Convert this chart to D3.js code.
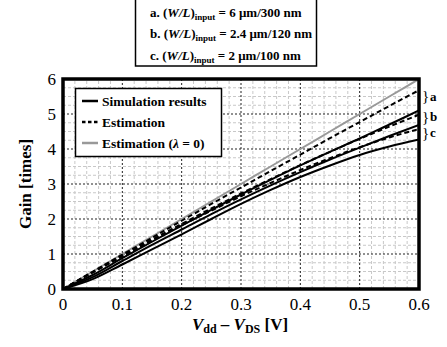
<!DOCTYPE html>
<html>
<head>
<meta charset="utf-8">
<script src="https://cdn.jsdelivr.net/npm/d3@7"></script>
<style>
  body { margin: 0; background: #fff; }
  svg text { font-family: "Times New Roman", "Liberation Serif", Tinos, "DejaVu Serif", "Noto Serif", serif; }
</style>
</head>
<body>
<svg id="chart" width="447" height="347"></svg>
<script>
// x values (Vdd - VDS, V)
const vx = [0, 0.05, 0.1, 0.15, 0.2, 0.25, 0.3, 0.35, 0.4, 0.45, 0.5, 0.55, 0.6];

// simulation results (solid)
const simA = [0, 0.4, 0.88, 1.35, 1.81, 2.26, 2.7, 3.12, 3.53, 3.92, 4.3, 4.7, 5.1];
const simB = [0, 0.34, 0.8, 1.26, 1.7, 2.14, 2.56, 2.96, 3.34, 3.7, 4.04, 4.37, 4.69];
const simC = [0, 0.28, 0.7, 1.13, 1.56, 2.0, 2.43, 2.83, 3.2, 3.53, 3.83, 4.07, 4.27];

// estimation (dashed)
const estA = [0, 0.49, 0.98, 1.46, 1.95, 2.43, 2.9, 3.37, 3.84, 4.31, 4.77, 5.23, 5.68];
const estB = [0, 0.48, 0.95, 1.41, 1.86, 2.3, 2.73, 3.14, 3.54, 3.92, 4.29, 4.64, 4.98];
const estC = [0, 0.47, 0.93, 1.38, 1.82, 2.24, 2.65, 3.03, 3.4, 3.74, 4.05, 4.33, 4.57];

// estimation with lambda = 0 (grey)
const estL0 = [0, 0.5, 1, 1.5, 2, 2.5, 3, 3.5, 4, 4.5, 5, 5.5, 6];

const xTicks = [0, 0.1, 0.2, 0.3, 0.4, 0.5, 0.6];
const xTickLabels = ['0', '0.1', '0.2', '0.3', '0.4', '0.5', '0.6'];
const yTicks = [0, 1, 2, 3, 4, 5, 6];

const boxLines = [
  {tag: 'a.', w: '6 \u03BCm/300 nm'},
  {tag: 'b.', w: '2.4 \u03BCm/120 nm'},
  {tag: 'c.', w: '2 \u03BCm/100 nm'}
];
const braceLabels = ['a', 'b', 'c'];
const braceGain = [5.5, 4.92, 4.45];

const svg = d3.select('#chart');
const margin = {top: 79, right: 28, bottom: 58, left: 63};
const width = 447 - margin.left - margin.right,
  height = 347 - margin.top - margin.bottom;

const x = d3.scaleLinear().domain([0, 0.6]).range([margin.left, margin.left + width]);
const y = d3.scaleLinear().domain([0, 6]).range([margin.top + height, margin.top]);

svg.append('defs').append('clipPath').attr('id', 'clip')
  .append('rect')
  .attr('x', margin.left).attr('y', margin.top)
  .attr('width', width).attr('height', height);

// minor grid
const grid = svg.append('g');
grid.selectAll('.vminor')
  .data(d3.range(1, 30).filter(i => i % 5 !== 0).map(i => i * 0.02))
  .enter().append('line')
  .attr('x1', d => x(d)).attr('x2', d => x(d))
  .attr('y1', y(0)).attr('y2', y(6))
  .attr('stroke', '#c8c8c8').attr('stroke-width', 1).attr('stroke-dasharray', '3,2');
grid.selectAll('.hminor')
  .data(d3.range(1, 24).filter(i => i % 4 !== 0).map(i => i * 0.25))
  .enter().append('line')
  .attr('x1', x(0)).attr('x2', x(0.6))
  .attr('y1', d => y(d)).attr('y2', d => y(d))
  .attr('stroke', '#c8c8c8').attr('stroke-width', 1).attr('stroke-dasharray', '3,2');

// major grid
grid.selectAll('.vmajor')
  .data(xTicks.slice(1, -1))
  .enter().append('line')
  .attr('x1', d => x(d)).attr('x2', d => x(d))
  .attr('y1', y(0)).attr('y2', y(6))
  .attr('stroke', '#222').attr('stroke-width', 1).attr('stroke-dasharray', '2,2');
grid.selectAll('.hmajor')
  .data(yTicks.slice(1, -1))
  .enter().append('line')
  .attr('x1', x(0)).attr('x2', x(0.6))
  .attr('y1', d => y(d)).attr('y2', d => y(d))
  .attr('stroke', '#222').attr('stroke-width', 1).attr('stroke-dasharray', '2,2');

// curves
const line = d3.line()
  .curve(d3.curveMonotoneX)
  .x((d, i) => x(vx[i]))
  .y(d => y(d));

const series = [
  {v: estL0, color: '#999', dash: null},
  {v: simA, color: '#000', dash: null},
  {v: simB, color: '#000', dash: null},
  {v: simC, color: '#000', dash: null},
  {v: estA, color: '#000', dash: '5,3'},
  {v: estB, color: '#000', dash: '5,3'},
  {v: estC, color: '#000', dash: '5,3'}
];

svg.append('g').attr('clip-path', 'url(#clip)')
  .selectAll('path')
  .data(series)
  .enter().append('path')
  .attr('d', d => line(d.v))
  .attr('fill', 'none')
  .attr('stroke', d => d.color)
  .attr('stroke-width', 2)
  .attr('stroke-dasharray', d => d.dash);

// frame
svg.append('rect')
  .attr('x', margin.left).attr('y', margin.top)
  .attr('width', width).attr('height', height)
  .attr('fill', 'none').attr('stroke', '#000').attr('stroke-width', 3.5);

// tick labels
svg.append('g').selectAll('text')
  .data(xTicks)
  .enter().append('text')
  .attr('x', d => x(d)).attr('y', y(0) + 21)
  .attr('text-anchor', 'middle')
  .style('font-size', '17px')
  .text((d, i) => xTickLabels[i]);

svg.append('g').selectAll('text')
  .data(yTicks)
  .enter().append('text')
  .attr('x', margin.left - 7).attr('y', d => y(d))
  .attr('dy', '0.35em')
  .attr('text-anchor', 'end')
  .style('font-size', '17px')
  .text(d => d);

// axis titles
const xt = svg.append('text')
  .attr('x', 240).attr('y', 330)
  .attr('text-anchor', 'middle')
  .style('font-size', '17px').style('font-weight', 'bold');
xt.append('tspan').style('font-style', 'italic').text('V');
xt.append('tspan').attr('dy', 3).style('font-size', '12px').text('dd');
xt.append('tspan').attr('dy', -3).text(' \u2013 ');
xt.append('tspan').style('font-style', 'italic').text('V');
xt.append('tspan').attr('dy', 3).style('font-size', '12px').text('DS');
xt.append('tspan').attr('dy', -3).text(' [V]');

svg.append('text')
  .attr('transform', 'translate(31,' + y(3) + ') rotate(-90)')
  .attr('text-anchor', 'middle')
  .style('font-size', '17px').style('font-weight', 'bold')
  .text('Gain [times]');

// top box
svg.append('rect')
  .attr('x', 135.5).attr('y', -1)
  .attr('width', 181).attr('height', 67)
  .attr('fill', '#fff').attr('stroke', '#000').attr('stroke-width', 1.5);

const bt = svg.append('g').selectAll('text')
  .data(boxLines)
  .enter().append('text')
  .attr('x', 150).attr('y', (d, i) => 16.5 + i * 21.5)
  .style('font-size', '13px').style('font-weight', 'bold');
bt.append('tspan').text(d => d.tag + ' (');
bt.append('tspan').style('font-style', 'italic').text('W/L');
bt.append('tspan').text(')');
bt.append('tspan').attr('dy', 3).style('font-size', '9px').text('input');
bt.append('tspan').attr('dy', -3).text(d => ' = ' + d.w);

// legend
const lg = svg.append('g');
lg.append('rect')
  .attr('x', 75.5).attr('y', 88.5)
  .attr('width', 146).attr('height', 68)
  .attr('fill', '#fff').attr('stroke', '#000').attr('stroke-width', 1.5);

const legendItems = [
  {label: 'Simulation results', color: '#000', dash: null},
  {label: 'Estimation', color: '#000', dash: '3.5,2.5'},
  {label: 'Estimation (', color: '#999', dash: null, lambda: true}
];
const li = lg.selectAll('.item')
  .data(legendItems)
  .enter().append('g')
  .attr('transform', (d, i) => 'translate(0,' + (101 + i * 21) + ')');
li.append('line')
  .attr('x1', 82).attr('x2', 98)
  .attr('stroke', d => d.color).attr('stroke-width', 2.5)
  .attr('stroke-dasharray', d => d.dash);
const lt = li.append('text')
  .attr('x', 102).attr('dy', '0.35em')
  .style('font-size', '13.5px').style('font-weight', 'bold')
  .text(d => d.label);
lt.filter(d => d.lambda).append('tspan').style('font-style', 'italic').text('\u03BB');
lt.filter(d => d.lambda).append('tspan').text(' = 0)');

// braces on the right
const br = svg.append('g').selectAll('g')
  .data(braceLabels)
  .enter().append('g')
  .attr('transform', (d, i) => 'translate(422,' + y(braceGain[i]) + ')');
br.append('text')
  .attr('dy', '0.32em')
  .style('font-size', '15px')
  .text('}');
br.append('text')
  .attr('x', 8).attr('dy', '0.32em')
  .style('font-size', '13px').style('font-weight', 'bold')
  .text(d => d);
</script>
</body>
</html>
